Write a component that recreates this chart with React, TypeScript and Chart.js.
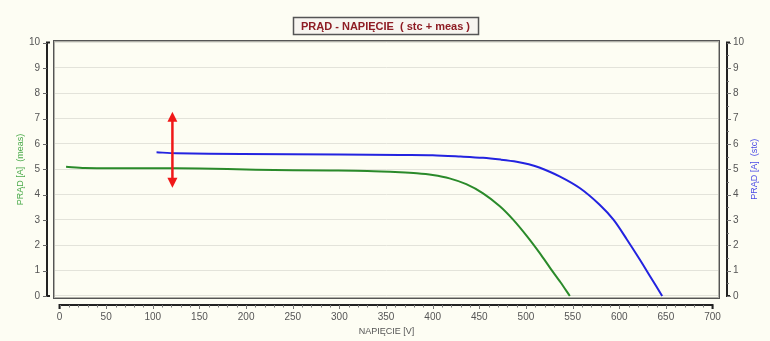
import React, { useEffect, useRef } from "react";
import { Chart, registerables } from "chart.js";

Chart.register(...registerables);

// ---- data ----
const chartTitle = "PRĄD - NAPIĘCIE  ( stc + meas )";
const xTitle = "NAPIĘCIE [V]";
const leftTitle = "PRĄD [A]  (meas)";
const rightTitle = "PRĄD [A]  (stc)";

const measVoltage = [7, 27, 100, 150, 210, 290, 330, 365, 383, 400, 418, 436, 454, 472, 486, 501, 515, 526, 537, 547];
const measCurrent = [5.1, 5.05, 5.04, 5.03, 4.98, 4.95, 4.93, 4.88, 4.84, 4.77, 4.64, 4.41, 4.05, 3.54, 3.02, 2.36, 1.68, 1.1, 0.54, 0.0];

const stcVoltage = [104, 125, 195, 300, 365, 400, 430, 454, 473, 490, 503, 515, 536, 558, 579, 594, 608, 622, 633, 646];
const stcCurrent = [5.67, 5.63, 5.6, 5.58, 5.56, 5.55, 5.5, 5.45, 5.38, 5.3, 5.2, 5.06, 4.72, 4.25, 3.6, 3.0, 2.24, 1.44, 0.78, 0.0];

const voltageTicks = [0, 50, 100, 150, 200, 250, 300, 350, 400, 450, 500, 550, 600, 650, 700];
const currentTicks = [0, 1, 2, 3, 4, 5, 6, 7, 8, 9, 10];

const arrowVoltage = 121;
const arrowCurrent = [4.27, 7.27];

const FONT = '"Liberation Sans", Arial, sans-serif';

const decorPlugin = {
  id: "decor",
  beforeDraw(chart: any) {
    const { ctx, width, height } = chart;
    ctx.save();
    ctx.fillStyle = "#fdfdf3";
    ctx.fillRect(0, 0, width, height);
    ctx.restore();
  },
  afterDraw(chart: any) {
    const { ctx, chartArea } = chart;
    const xs = chart.scales.x;
    const ys = chart.scales.y;
    const y2 = chart.scales.y2;
    ctx.save();

    // plot frame
    ctx.strokeStyle = "#b0b0a8";
    ctx.lineWidth = 1;
    ctx.strokeRect(chartArea.left + 1.5, chartArea.top + 1.5, chartArea.right - chartArea.left - 3, chartArea.bottom - chartArea.top - 3);
    ctx.strokeStyle = "#555";
    ctx.strokeRect(chartArea.left + 0.5, chartArea.top + 0.5, chartArea.right - chartArea.left - 1, chartArea.bottom - chartArea.top - 1);

    // left axis line
    const y0 = ys.getPixelForValue(currentTicks[0]);
    const y10 = ys.getPixelForValue(currentTicks[currentTicks.length - 1]);
    const lx = chartArea.left - 6;
    ctx.strokeStyle = "#222";
    ctx.lineWidth = 2;
    ctx.beginPath();
    ctx.moveTo(lx + 3, y10);
    ctx.lineTo(lx, y10);
    ctx.lineTo(lx, y0);
    ctx.lineTo(lx + 3, y0);
    ctx.stroke();
    ctx.lineWidth = 1;
    ctx.strokeStyle = "#666";
    currentTicks.forEach((v) => {
      const p = Math.round(ys.getPixelForValue(v)) + 0.5;
      ctx.beginPath();
      ctx.moveTo(lx - 4, p);
      ctx.lineTo(lx, p);
      ctx.stroke();
    });

    // right axis line
    const rx = chartArea.right + 7;
    ctx.strokeStyle = "#222";
    ctx.lineWidth = 2;
    ctx.beginPath();
    ctx.moveTo(rx + 3, y10);
    ctx.lineTo(rx, y10);
    ctx.lineTo(rx, y0);
    ctx.lineTo(rx + 3, y0);
    ctx.stroke();
    ctx.lineWidth = 1;
    ctx.strokeStyle = "#777";
    for (let v = 0; v <= 10; v += 0.5) {
      const p = Math.round(y2.getPixelForValue(v)) + 0.5;
      const major = Number.isInteger(v);
      ctx.beginPath();
      ctx.moveTo(rx, p);
      ctx.lineTo(rx + (major ? 4 : 2), p);
      ctx.stroke();
    }

    // x axis line
    const ax = chartArea.bottom + 6;
    const x0 = xs.getPixelForValue(voltageTicks[0]);
    const x700 = xs.getPixelForValue(voltageTicks[voltageTicks.length - 1]);
    ctx.strokeStyle = "#222";
    ctx.lineWidth = 2;
    ctx.beginPath();
    ctx.moveTo(x0, ax + 4);
    ctx.lineTo(x0, ax);
    ctx.lineTo(x700, ax);
    ctx.lineTo(x700, ax + 4);
    ctx.stroke();
    ctx.lineWidth = 1;
    ctx.strokeStyle = "#777";
    for (let v = 0; v <= 700; v += 10) {
      const p = Math.round(xs.getPixelForValue(v)) + 0.5;
      const major = v % 50 === 0;
      ctx.beginPath();
      ctx.moveTo(p, ax);
      ctx.lineTo(p, ax + (major ? 4 : 2.5));
      ctx.stroke();
    }

    // right title (reads bottom-to-top)
    ctx.save();
    ctx.translate(755, (y0 + y10) / 2);
    ctx.rotate(-Math.PI / 2);
    ctx.font = `9px ${FONT}`;
    ctx.fillStyle = "#4a4ae6";
    ctx.textAlign = "center";
    ctx.textBaseline = "middle";
    ctx.fillText(rightTitle, 0, 0);
    ctx.restore();

    // red double arrow
    const ax1 = xs.getPixelForValue(arrowVoltage);
    const top = ys.getPixelForValue(arrowCurrent[1]);
    const bot = ys.getPixelForValue(arrowCurrent[0]);
    ctx.strokeStyle = "#f01818";
    ctx.fillStyle = "#f01818";
    ctx.lineWidth = 2.5;
    ctx.beginPath();
    ctx.moveTo(ax1, top + 8);
    ctx.lineTo(ax1, bot - 8);
    ctx.stroke();
    ctx.beginPath();
    ctx.moveTo(ax1, top);
    ctx.lineTo(ax1 - 5, top + 10);
    ctx.lineTo(ax1 + 5, top + 10);
    ctx.closePath();
    ctx.fill();
    ctx.beginPath();
    ctx.moveTo(ax1, bot);
    ctx.lineTo(ax1 - 5, bot - 10);
    ctx.lineTo(ax1 + 5, bot - 10);
    ctx.closePath();
    ctx.fill();

    // chart title box
    ctx.font = `bold 11px ${FONT}`;
    const w = ctx.measureText(chartTitle).width;
    const cx = 385.5;
    const bx = Math.round(cx - w / 2 - 8) + 0.5;
    ctx.fillStyle = "#f7f5f0";
    ctx.fillRect(bx, 17.5, w + 16, 17);
    ctx.strokeStyle = "#555";
    ctx.lineWidth = 1.5;
    ctx.strokeRect(bx, 17.5, w + 16, 17);
    ctx.fillStyle = "#8e1c24";
    ctx.textAlign = "center";
    ctx.textBaseline = "middle";
    ctx.fillText(chartTitle, cx, 26.5);

    ctx.restore();
  },
};

export default function App() {
  const ref = useRef<HTMLCanvasElement | null>(null);

  useEffect(() => {
    if (!ref.current) return;
    const tickFont = { family: FONT, size: 10 };
    const chart = new Chart(ref.current, {
      type: "line",
      data: {
        datasets: [
          {
            label: "meas",
            data: measVoltage.map((v, i) => ({ x: v, y: measCurrent[i] })),
            borderColor: "#2a8a2a",
            borderWidth: 2,
            pointRadius: 0,
            tension: 0.3,
            yAxisID: "y",
          },
          {
            label: "stc",
            data: stcVoltage.map((v, i) => ({ x: v, y: stcCurrent[i] })),
            borderColor: "#2323e0",
            borderWidth: 2,
            pointRadius: 0,
            tension: 0.3,
            yAxisID: "y2",
          },
        ],
      },
      options: {
        animation: false,
        responsive: false,
        devicePixelRatio: 1,
        layout: { padding: { top: 40, left: 0, right: 0, bottom: 0 } },
        plugins: {
          legend: { display: false },
          title: { display: false },
          tooltip: { enabled: false },
        },
        scales: {
          x: {
            type: "linear",
            position: "bottom",
            min: -7,
            max: 708,
            bounds: "data",
            afterBuildTicks: (s: any) => {
              s.ticks = voltageTicks.map((v) => ({ value: v }));
            },
            afterFit: (s: any) => {
              s.height = 42;
            },
            grid: { display: false, drawTicks: false },
            border: { display: false },
            ticks: { color: "#555", font: tickFont, padding: 12, maxRotation: 0, autoSkip: false },
            title: {
              display: true,
              text: xTitle,
              color: "#555",
              font: { family: FONT, size: 9 },
              padding: { top: 0, bottom: 4 },
            },
          },
          y: {
            type: "linear",
            position: "left",
            min: -0.12,
            max: 10.1,
            bounds: "data",
            afterBuildTicks: (s: any) => {
              s.ticks = currentTicks.map((v) => ({ value: v }));
            },
            afterFit: (s: any) => {
              s.width = 53;
            },
            grid: { color: "#e3e3da", lineWidth: 1, drawTicks: false },
            border: { display: false },
            ticks: { color: "#555", font: tickFont, padding: 13, autoSkip: false },
            title: {
              display: true,
              text: leftTitle,
              color: "#4aaa4a",
              font: { family: FONT, size: 9 },
              padding: { top: 15, bottom: 0 },
            },
          },
          y2: {
            type: "linear",
            position: "right",
            min: -0.12,
            max: 10.1,
            bounds: "data",
            afterBuildTicks: (s: any) => {
              s.ticks = currentTicks.map((v) => ({ value: v }));
            },
            afterFit: (s: any) => {
              s.width = 50;
            },
            grid: { display: false, drawTicks: false },
            border: { display: false },
            ticks: { color: "#555", font: tickFont, padding: 13, autoSkip: false },
          },
        },
      },
      plugins: [decorPlugin],
    } as any);
    return () => chart.destroy();
  }, []);

  return (
    <div style={{ position: "fixed", left: 0, top: 0, width: 770, height: 341, background: "#fdfdf3" }}>
      <canvas ref={ref} width={770} height={341} style={{ display: "block", width: 770, height: 341 }} />
    </div>
  );
}
